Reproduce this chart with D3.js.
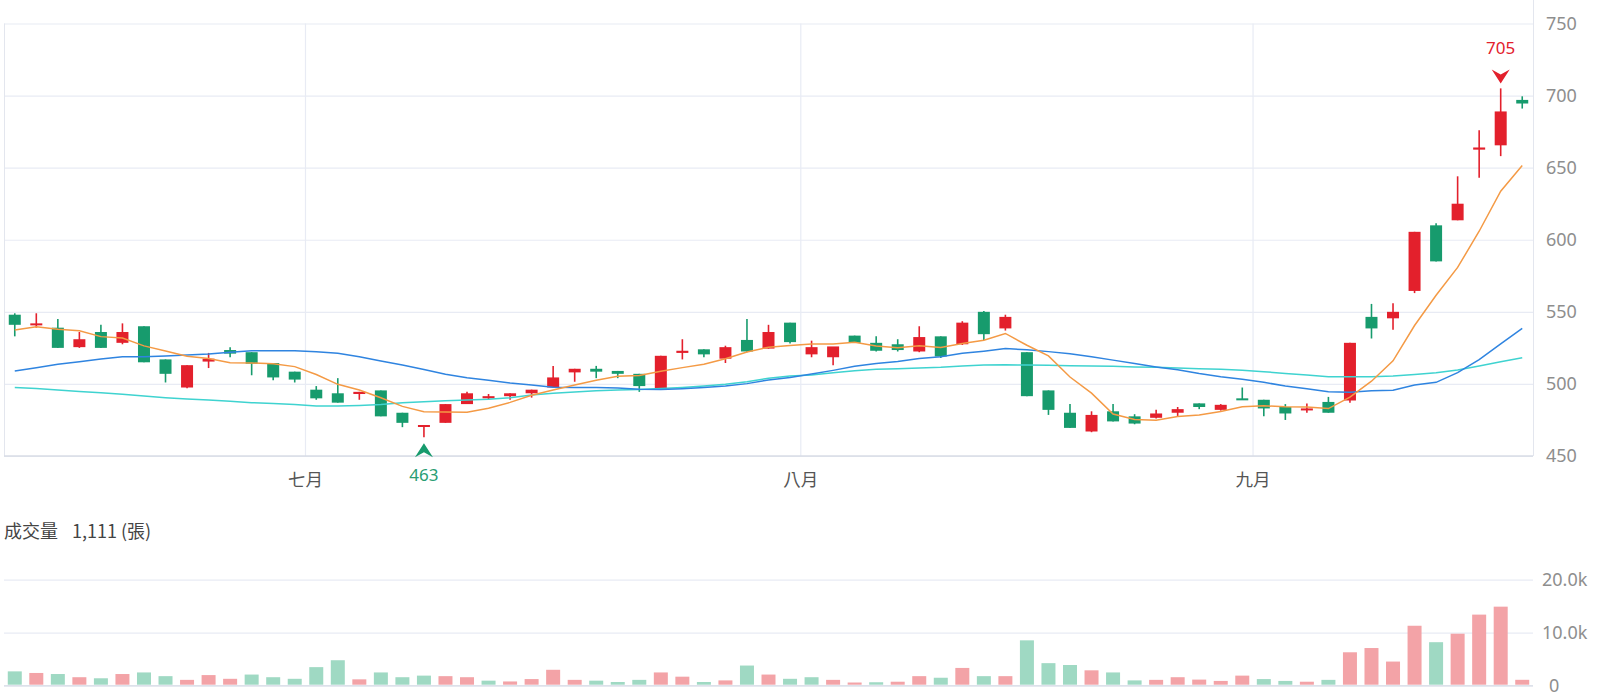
<!DOCTYPE html>
<html>
<head>
<meta charset="utf-8">
<script src="https://cdn.jsdelivr.net/npm/d3@7"></script>
<style>
body { margin: 0; background: #fff; }
</style>
</head>
<body>
<div id="chart"></div>
<script>

// trading days
var dates = ["06/11","06/12","06/13","06/16","06/17","06/18","06/19","06/20","06/23","06/24","06/25","06/26","06/27","06/30",
  "07/01","07/02","07/03","07/04","07/07","07/08","07/09","07/10","07/11","07/14","07/15","07/16","07/17","07/18","07/21","07/22","07/23","07/24","07/25","07/28","07/29","07/30","07/31",
  "08/01","08/04","08/05","08/06","08/07","08/08","08/11","08/12","08/13","08/14","08/15","08/18","08/19","08/20","08/21","08/22","08/25","08/26","08/27","08/28","08/29",
  "09/01","09/02","09/03","09/04","09/05","09/08","09/09","09/10","09/11","09/12","09/15","09/16","09/17"];

var openP  = [548,541,539,525.5,536,528.5,540,517,497.5,515.5,523.5,522,514.5,508.5,
  496,493.5,493,495.5,480,470.5,473,486,490,491.5,493.5,497.5,508,510.5,509,507,496.5,521.5,524,517.5,530.5,524.5,542.5,
  520.5,518.5,533.5,528.5,527.5,522.5,533,527.5,550,538.5,522,495.5,480,467,481,477.5,476.5,480,486.5,482,490,
  489,484,482,487.5,488.5,546.5,545.5,564.5,610,613.5,662.5,665.5,697];
var highP  = [549,549,545,536,541,542,540,517,513,521.5,525.5,522,514.5,508.5,
  498.5,504,494.5,495.5,480,471.5,486,494.5,493,493.5,496,512.5,510.5,512.5,509,507,519.5,531,524,526.5,545,541,542.5,
  530,525.5,533.5,533,531,540,533,543.5,550.5,548,522,495.5,486,481,486,479,482,484,486.5,486,497.5,
  489,486,486.5,491,528.5,555.5,556,605.5,611.5,644,676,705,699.5];
var lowP   = [533,539,525,525,525,527.5,515,501,497,511,518.5,506,502.5,501,
  489,487,489,477.5,470,463,473,486,489,489,490.5,497.5,501.5,504,504,494.5,496.5,517,518.5,514.5,522,524.5,528,
  518.5,513,528.5,522.5,522.5,522,518,527,530.5,537,491.5,478.5,469.5,466.5,474,472,476,477.5,482.5,481.5,489,
  477.5,475,480,480,487,531.5,537.5,563,585,613.5,643,658,691];
var closeP = [541,542,525,531,525,536,515,507,513,517.5,521,514,504.5,503,
  490,487,494.5,477.5,473,471.5,486,493.5,491.5,493.5,496,504.5,510.5,508.5,507,498.5,519.5,523,520.5,525.5,522.5,536,529,
  525.5,526,528.5,523,523.5,532.5,519,542.5,534.5,546.5,491.5,482,469.5,478.5,474,472.5,479.5,482.5,484,485.5,489,
  483,479.5,483,480,528.5,538.5,550,605.5,585,625,664,689,694.5];
var prevClose = 545;

// volume (張)
var volume = [2700,2400,2200,1600,1400,2200,2500,1800,1100,2000,1300,2100,1600,1300,
  3500,4800,1200,2500,1600,1900,1800,1600,950,800,1250,3000,1100,950,700,1100,2500,1700,700,1000,3800,2100,1300,
  1600,1100,600,650,750,1800,1500,3350,1800,1800,8550,4250,3900,2900,2500,1000,1100,1600,1150,900,1900,
  1250,900,750,1100,6300,7100,4550,11300,8200,9800,13400,14900,1111];

// moving averages
var ma5 = [537.4,539.7,537.9,536.9,532.8,531.8,526.4,522.8,519.2,517.7,514.7,514.5,514,512,
  506.5,499.7,495.8,490.4,484.4,480.7,480.5,480.3,483.1,487.2,492.1,495.8,499.2,502.6,505.3,505.8,508.8,511.3,513.7,517.4,522.2,525.5,526.7,
  527.7,527.7,528.9,526.3,525.1,526.5,525.2,528,530.3,535,526.8,519.4,504.8,493.6,479.1,475.3,474.8,477.4,478.5,480.8,484.1,
  484.8,484.2,484,482.9,490.8,501.9,516,540.5,561.5,580.8,605.9,633.7,651.5];
var ma20 = [508.9,511.2,513.6,515.4,517.3,518.9,518.9,519.3,520,520.7,521.9,523,523,523,
  522.3,521.2,518.9,515.9,513.1,510,506.7,504.3,502.6,500.7,499.3,497.7,497.5,497.5,497.2,496.3,496.2,496.7,497.5,498.6,500.2,502.7,504.4,
  506.8,509.4,512.3,514.1,515.6,517.6,518.9,521.2,522.7,524.5,523.7,522.4,521,518.9,516.5,514.1,511.8,509.8,507.2,505,503.2,
  501.1,498.6,496.6,494.5,494.3,495.2,495.6,499.2,501.1,507.8,516.9,527.8,538.6];
var ma60 = [497.6,496.9,495.8,494.8,493.9,492.8,491.6,490.4,489.5,488.8,487.9,487,486.5,485.8,
  484.7,484.7,485.1,485.8,487,487.7,488.4,488.8,489.3,490.4,492.3,493.5,494.4,495.3,495.8,496.2,496.9,497.6,498.5,499.7,501.5,503.9,505.5,
  506.2,507.8,509.2,510.1,510.6,511,511.5,512.4,513.1,513.3,513.1,512.9,512.6,512.4,512.2,511.7,511.5,511,510.6,510.1,509.4,
  508.5,507.3,506.2,505,505,505,505.5,506.6,507.8,509.6,512.4,515.4,518.2];

// axis ticks
var priceTicks = [450,500,550,600,650,700,750];
var volTicks = [0,10000,20000];
var monthTicks = ["07/01","08/01","09/01"];
var monthLabels = ["七月","八月","九月"];

var red = "#e3202c", green = "#179b6d";
var volRed = "#f3a3a7", volGreen = "#9fd9c3";
var gridColor = "#e8ebf4";
var numFont = "'Noto Sans', 'Open Sans', sans-serif";
var cjkFont = "'Noto Sans CJK TC', 'Noto Sans', sans-serif";

var svg = d3.select("#chart").append("svg")
            .attr("width", 1600)
            .attr("height", 700);

var left = 4, right = 1533;
var x = d3.scaleBand().domain(dates).range([left, right]);
var y = d3.scaleLinear().domain([450, 750]).range([456, 23.5]);
var yVol = d3.scaleLinear().domain([0, 20000]).range([685.7, 579.6]);
var cx = function(d){ return x(d) + x.bandwidth()/2; };

//price grid + right axis
var yAxis = svg.append("g")
   .attr("transform", "translate(" + right + ",0)")
   .call(d3.axisRight(y).tickValues(priceTicks).tickSize(-(right-left)).tickPadding(13).tickFormat(d3.format("d")));
yAxis.select(".domain").remove();
yAxis.selectAll(".tick line").attr("stroke", gridColor).attr("stroke-width", 1.2);
yAxis.selectAll(".tick text").attr("fill", "#8e8e8e").style("font-family", numFont).style("font-size", "18px");

// month grid lines and labels
monthTicks.forEach(function(m, i){
  svg.append("line")
     .attr("x1", x(m)).attr("x2", x(m))
     .attr("y1", y(750)).attr("y2", y(450))
     .attr("stroke", gridColor).attr("stroke-width", 1.2);
  svg.append("text").text(monthLabels[i])
     .attr("x", x(m)).attr("y", 486)
     .attr("text-anchor", "middle")
     .style("font-family", cjkFont).style("font-size", "17.5px")
     .style("fill", "#555");
});

// frame
svg.append("line").attr("x1", left+0.5).attr("x2", left+0.5).attr("y1", y(750)).attr("y2", y(450)).attr("stroke", "#e3e6ee");
svg.append("line").attr("x1", left).attr("x2", right).attr("y1", y(450)).attr("y2", y(450)).attr("stroke", "#d8dce6").attr("stroke-width", 1.5);
svg.append("line").attr("x1", right+0.5).attr("x2", right+0.5).attr("y1", 0).attr("y2", y(450)).attr("stroke", "#e3e6ee");

// candles
var candles = svg.append("g").selectAll("g")
   .data(dates)
   .enter()
   .append("g");

candles.append("line")
   .attr("x1", function(d){ return cx(d); })
   .attr("x2", function(d){ return cx(d); })
   .attr("y1", function(d, i){ return y(highP[i]); })
   .attr("y2", function(d, i){ return y(lowP[i]); })
   .attr("stroke", function(d, i){ return closeP[i] >= openP[i] ? red : green; })
   .attr("stroke-width", 1.6);

candles.append("rect")
   .attr("x", function(d){ return cx(d) - 6; })
   .attr("width", 12)
   .attr("y", function(d, i){ return y(Math.max(openP[i], closeP[i])); })
   .attr("height", function(d, i){ return Math.max(2, Math.abs(y(openP[i]) - y(closeP[i]))); })
   .attr("fill", function(d, i){ return closeP[i] >= openP[i] ? red : green; });

// moving average lines
var maLines = [[ma60, "#3fd3d0"], [ma20, "#2f84e0"], [ma5, "#f49a45"]];
maLines.forEach(function(s){
  var line = d3.line()
      .x(function(d, i){ return cx(dates[i]); })
      .y(function(d){ return y(d); });
  svg.append("path")
     .datum(s[0])
     .attr("d", line)
     .attr("fill", "none")
     .attr("stroke", s[1])
     .attr("stroke-width", 1.5);
});

// highest / lowest markers
var hiIdx = d3.maxIndex(highP), loIdx = d3.minIndex(lowP);
var hx = cx(dates[hiIdx]), hy = y(highP[hiIdx]) - 5;
svg.append("path")
   .attr("d", "M" + (hx-9) + "," + (hy-14) + " L" + hx + "," + (hy-9) + " L" + (hx+9) + "," + (hy-14) + " L" + hx + "," + hy + " Z")
   .attr("fill", red);
svg.append("text").text(Math.round(highP[hiIdx]))
   .attr("x", hx).attr("y", hy - 29)
   .attr("text-anchor", "middle")
   .style("font-family", numFont).style("font-size", "17px")
   .style("fill", red);

var lx = cx(dates[loIdx]), ly = y(lowP[loIdx]) + 6;
svg.append("path")
   .attr("d", "M" + (lx-9) + "," + (ly+14) + " L" + lx + "," + (ly+9) + " L" + (lx+9) + "," + (ly+14) + " L" + lx + "," + ly + " Z")
   .attr("fill", green);
svg.append("text").text(Math.round(lowP[loIdx]))
   .attr("x", lx).attr("y", ly + 38)
   .attr("text-anchor", "middle")
   .style("font-family", numFont).style("font-size", "17px")
   .style("fill", "#2a9d73");

// volume title
svg.append("text").text("成交量")
   .attr("x", 4).attr("y", 538)
   .style("font-family", cjkFont).style("font-size", "18px")
   .style("fill", "#444");
svg.append("text").text(d3.format(",")(volume[volume.length-1]) + " (張)")
   .attr("x", 72).attr("y", 538)
   .style("font-family", cjkFont).style("font-size", "18px")
   .style("fill", "#444");

// volume grid + axis
var vAxis = svg.append("g")
   .attr("transform", "translate(" + right + ",0)")
   .call(d3.axisRight(yVol).tickValues(volTicks).tickSize(-(right-left)).tickPadding(9)
        .tickFormat(function(d){ return d == 0 ? "0" : d3.format(".1f")(d/1000) + "k"; }));
vAxis.select(".domain").remove();
vAxis.selectAll(".tick line").attr("stroke", gridColor).attr("stroke-width", 1.2);
vAxis.selectAll(".tick text").attr("fill", "#8e8e8e").style("font-family", numFont).style("font-size", "18px")
     .attr("x", function(d){ return d == 0 ? 16 : 9; });
svg.append("line").attr("x1", left).attr("x2", right).attr("y1", yVol(0)).attr("y2", yVol(0)).attr("stroke", "#dde1ea").attr("stroke-width", 1.5);

// volume bars, colour by change against previous close
svg.append("g").selectAll("rect")
   .data(dates)
   .enter()
   .append("rect")
   .attr("x", function(d){ return cx(d) - 7; })
   .attr("width", 14)
   .attr("y", function(d, i){ return yVol(volume[i]); })
   .attr("height", function(d, i){ return yVol(0) - yVol(volume[i]) - 1; })
   .attr("fill", function(d, i){
       var pc = i == 0 ? prevClose : closeP[i-1];
       return closeP[i] >= pc ? volRed : volGreen;
   });

</script>
</body>
</html>
